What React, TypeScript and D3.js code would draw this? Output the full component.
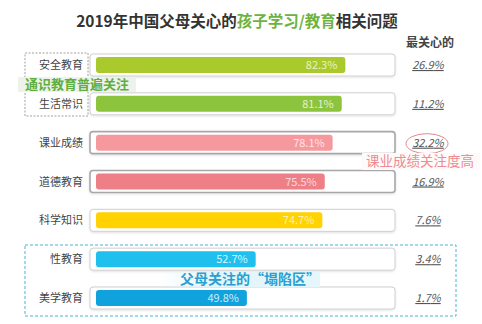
import React from "react";
import * as d3 from "d3";

const categories = ["安全教育", "生活常识", "课业成绩", "道德教育", "科学知识", "性教育", "美学教育"];
const values = [82.3, 81.1, 78.1, 75.5, 74.7, 52.7, 49.8];
const topConcern = [26.9, 11.2, 32.2, 16.9, 7.6, 3.4, 1.7];
const barColors = ["#a9c92c", "#8dc43d", "#f5999e", "#ee7f86", "#ffd200", "#1fc0ed", "#0fa2dc"];
const labelColors = ["#e9f2c4", "#e3f0cf", "#fde3e4", "#fbd9db", "#fff2b0", "#d4f2fb", "#d0ecf8"];

const W = 482;
const H = 324;
const FONT = "'Noto Sans CJK SC', 'Noto Sans', sans-serif";

export default function App() {
  const x = d3.scaleLinear().domain([0, 100]).range([96, 399]);
  const y = d3.scalePoint<string>().domain(categories).range([65, 298]);
  const frameL = 90;
  const frameR = 395;
  const frameH = 22;
  const barH = 16;

  return (
    <svg width={W} height={H} style={{ position: "absolute", left: 0, top: 0, background: "#fff" }} fontFamily={FONT}>
      <defs>
        <linearGradient id="blueBg" x1="0" x2="1" y1="0" y2="0">
          <stop offset="0" stopColor="#e2f5fb" stopOpacity="0" />
          <stop offset="0.35" stopColor="#e2f5fb" stopOpacity="1" />
          <stop offset="1" stopColor="#e6f7fc" stopOpacity="1" />
        </linearGradient>
        <filter id="sh" x="-5%" y="-20%" width="110%" height="150%">
          <feDropShadow dx="0" dy="1" stdDeviation="0.8" floodColor="#000" floodOpacity="0.12" />
        </filter>
      </defs>

      {/* Title */}
      <text x={237} y={27} textAnchor="middle" fontSize={15.5} fontWeight="bold" fill="#333">
        2019年中国父母关心的<tspan fill="#6cb33f">孩子学习/教育</tspan>相关问题
      </text>
      <text x={430} y={47} textAnchor="middle" fontSize={12} fontWeight="bold" fill="#444">
        最关心的
      </text>

      {/* dashed boxes */}
      <rect x={25} y={53} width={63} height={63} fill="none" stroke="#888" strokeWidth={0.8} strokeDasharray="2,1.5" />
      <rect x={25} y={245} width={431} height={71} fill="none" stroke="#45b5d6" strokeWidth={1} strokeDasharray="3,2" />

      {categories.map((c, i) => {
        const cy = y(c) as number;
        const strong = i === 2 || i === 3;
        return (
          <g key={c}>
            <text x={83} y={cy + 4} textAnchor="end" fontSize={11} fill="#444">
              {c}
            </text>
            <rect
              x={frameL}
              y={cy - frameH / 2}
              width={frameR - frameL}
              height={frameH}
              rx={3}
              fill="#fff"
              stroke={strong ? "#a8a8a8" : "#cfcfcf"}
              strokeWidth={strong ? 1.6 : 1}
              filter="url(#sh)"
            />
            <rect x={x(0)} y={cy - barH / 2} width={x(values[i]) - x(0)} height={barH} rx={3} fill={barColors[i]} />
            <text x={x(values[i]) - 8} y={cy + 4} textAnchor="end" fontSize={11} fill={labelColors[i]}>
              {values[i].toFixed(1)}%
            </text>
            <text
              x={428}
              y={cy + 4}
              textAnchor="middle"
              fontSize={11}
              fontStyle="italic"
              fill="#555"
              style={{ textDecoration: "underline" }}
            >
              {topConcern[i].toFixed(1)}%
            </text>
          </g>
        );
      })}

      {/* green annotation */}
      <rect x={18} y={77} width={118} height={15} fill="#edf2ea" />
      <text x={25} y={89} fontSize={13} fontWeight="bold" fill="#5fae3e">
        通识教育普遍关注
      </text>

      {/* pink annotation */}
      <ellipse cx={427} cy={(y(categories[2]) as number) + 1} rx={21} ry={10} fill="none" stroke="#e08a90" strokeWidth={1} />
      <rect x={362} y={153} width={118} height={17} fill="#fefafa" />
      <text x={420} y={166} textAnchor="middle" fontSize={13.5} fill="#f08a92">
        课业成绩关注度高
      </text>

      {/* blue annotation */}
      <rect x={160} y={272} width={160} height={15} fill="url(#blueBg)" />
      <text x={180} y={284} fontSize={14} fontWeight="bold" fill="#2a9fd0">
        父母关注的“塌陷区”
      </text>
    </svg>
  );
}
